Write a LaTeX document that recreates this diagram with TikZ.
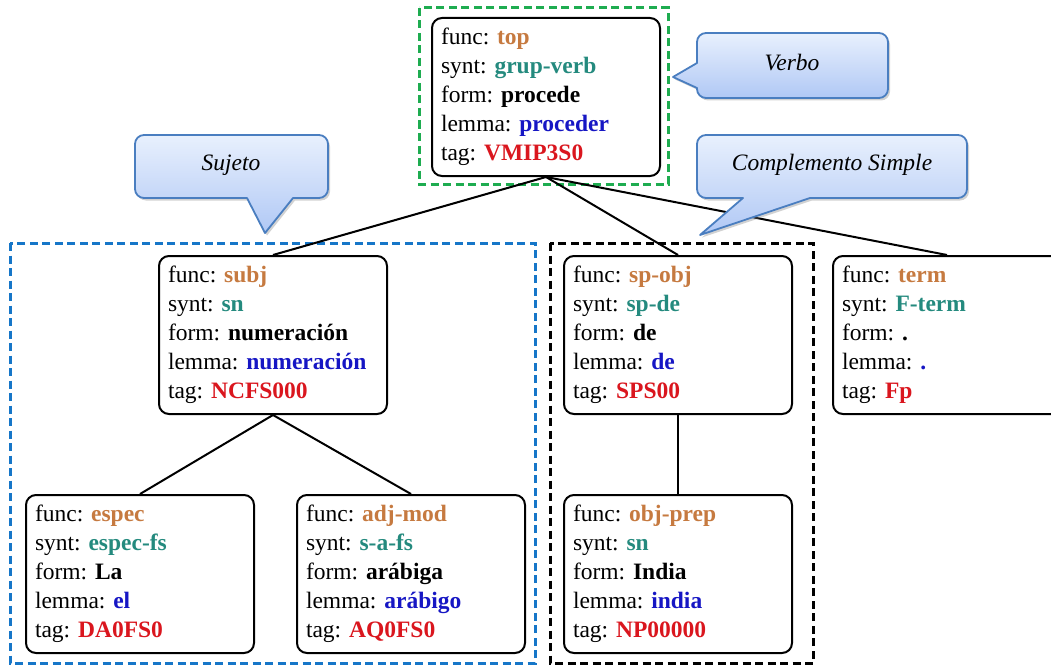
\documentclass[tikz,border=0pt]{standalone}
\usepackage{fontspec}
\setmainfont{Liberation Serif}
\usetikzlibrary{shadows}
\definecolor{cfunc}{RGB}{198,122,64}
\definecolor{csynt}{RGB}{36,138,126}
\definecolor{clemma}{RGB}{22,22,196}
\definecolor{ctag}{RGB}{218,22,30}
\definecolor{cgreen}{RGB}{30,172,80}
\definecolor{cblue}{RGB}{22,118,200}
\definecolor{coutline}{RGB}{74,126,192}
\definecolor{ctop}{RGB}{232,240,253}
\definecolor{cbottom}{RGB}{176,200,245}
\newcommand\featlines[5]{%
  func: \textbf{\textcolor{cfunc}{#1}}\\
  synt: \textbf{\textcolor{csynt}{#2}}\\
  form: \textbf{#3}\\
  lemma: \textbf{\textcolor{clemma}{#4}}\\
  tag: \textbf{\textcolor{ctag}{#5}}}
\tikzset{
  featbox/.style={draw, line width=2pt, rounded corners=10pt,
    minimum width=228pt, minimum height=158pt, text width=210pt,
    inner xsep=9pt, align=flush left, anchor=north west,
    font=\fontsize{23.5}{29}\selectfont},
  edge/.style={line width=2pt},
  group/.style={line width=3pt, dash pattern=on 8pt off 4.5pt},
  callout/.style={draw=coutline, line width=1.8pt, line join=round,
    top color=ctop, bottom color=cbottom,
    drop shadow={shadow xshift=2pt, shadow yshift=-2.5pt, opacity=0.35}},
  calltext/.style={font=\fontsize{23.5}{28}\selectfont\itshape}
}
\begin{document}
\begin{tikzpicture}[x=1pt, y=-1pt]
\useasboundingbox (0,0) rectangle (1051,666);
\clip (0,0) rectangle (1051,666);
\fill[white] (0,0) rectangle (1051,666);

% group frames
\draw[group, cgreen] (419,8) rectangle (668,184);
\draw[group, cblue] (10,243) rectangle (535,663);
\draw[group, black] (550,243) rectangle (813,663);

% feature structures
\node[featbox] (top) at (431,17) {\featlines{top}{grup-verb}{procede}{proceder}{VMIP3S0}};
\node[featbox] (subj) at (158,255) {\featlines{subj}{sn}{numeración}{numeración}{NCFS000}};
\node[featbox] (espec) at (25,494) {\featlines{espec}{espec-fs}{La}{el}{DA0FS0}};
\node[featbox] (adj) at (296,494) {\featlines{adj-mod}{s-a-fs}{arábiga}{arábigo}{AQ0FS0}};
\node[featbox] (spobj) at (563,255) {\featlines{sp-obj}{sp-de}{de}{de}{SPS00}};
\node[featbox] (objprep) at (563,494) {\featlines{obj-prep}{sn}{India}{india}{NP00000}};
\node[featbox] (term) at (832,255) {\featlines{term}{F-term}{.}{.}{Fp}};

% tree edges
\draw[edge] (top.south) -- (subj.north);
\draw[edge] (top.south) -- (spobj.north);
\draw[edge] (top.south) -- (term.north);
\draw[edge] (subj.south) -- (espec.north);
\draw[edge] (subj.south) -- (adj.north);
\draw[edge] (spobj.south) -- (objprep.north);

% callouts
\path[callout] (673,77) -- (697,63) [rounded corners=9pt] -- (697,33) -- (888,33)
  -- (888,98) -- (697,98) [sharp corners] -- (697,88) -- cycle;
\node[calltext] (verbo) at (792,63) {Verbo};

\path[callout] (265,233) -- (247,198) [rounded corners=9pt] -- (135,198) -- (135,135)
  -- (328,135) -- (328,198) [sharp corners] -- (293,198) -- cycle;
\node[calltext] (sujeto) at (231,165) {Sujeto};

\path[callout] (700,235) -- (743,198) [rounded corners=9pt] -- (697,198) -- (697,135)
  -- (967,135) -- (967,198) [sharp corners] -- (810,198) -- cycle;
\node[calltext] (compl) at (832,165) {Complemento Simple};
\end{tikzpicture}
\end{document}
